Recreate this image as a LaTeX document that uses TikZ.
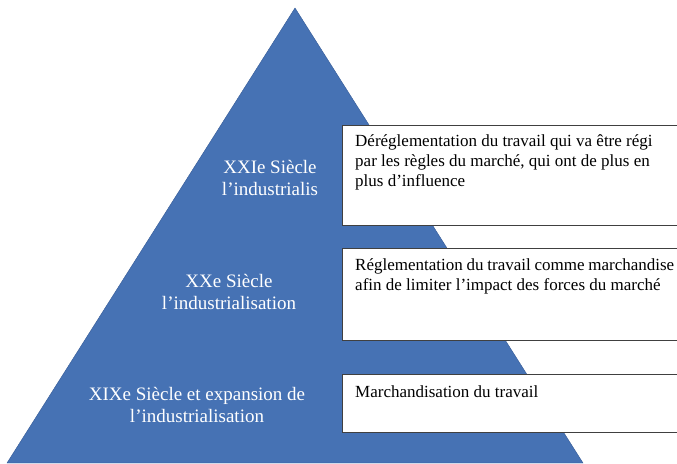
\documentclass[tikz,border=0pt]{standalone}
\usepackage{fontspec}
\setmainfont{Liberation Serif}
\usepackage{tikz}
\usetikzlibrary{positioning}
\hyphenpenalty=10000
\definecolor{pyrfill}{RGB}{70,114,180}
\definecolor{pyrborder}{RGB}{52,90,150}
\definecolor{boxborder}{RGB}{64,64,64}
\tikzset{
  levelbox/.style={
    draw=boxborder, fill=white, line width=0.9pt,
    minimum width=350pt, anchor=north west, inner sep=0pt
  },
  leveltext/.style={
    font=\fontsize{17}{20}\selectfont, inner sep=0pt
  },
  pyrlabel/.style={
    font=\fontsize{19}{22}\selectfont, text=white,
    align=center, inner sep=0pt
  }
}

\begin{document}
\begin{tikzpicture}[x=1pt, y=-1pt]
    \useasboundingbox (0,0) rectangle (677,463);
    \clip (0,0) rectangle (677,463);

    % Pyramid
    \coordinate (apex) at (295,8);
    \coordinate (baseL) at (7,463);
    \coordinate (baseR) at (583,463);
    \fill[pyrfill, draw=pyrborder, line width=0.4pt] (apex) -- (baseR) -- (baseL) -- cycle;

    % Century labels
    \node[pyrlabel] (lab21) at (270,178) {XXIe Siècle\\l’industrialis};
    \node[pyrlabel] (lab20) at (229,292) {XXe Siècle\\l’industrialisation};
    \node[pyrlabel] (lab19) at (197,405) {XIXe Siècle et expansion de\\l’industrialisation};

    % Description boxes
    \node[levelbox, minimum height=100pt] (box21) at (342,125) {};
    \node[levelbox, minimum height=92pt] (box20) at (342,248) {};
    \node[levelbox, minimum height=58pt] (box19) at (342,374) {};

    \node[leveltext, align=left, below right=9pt and 13pt of box21.north west] (txt21)
      {Déréglementation du travail qui va être régi\\par les règles du marché, qui ont de plus en\\plus d’influence};
    \node[leveltext, align=justify, text width=319pt, below right=10pt and 13pt of box20.north west] (txt20)
      {Réglementation du travail comme marchandise afin de limiter l’impact des forces du marché};
    \node[leveltext, align=left, below right=11pt and 13pt of box19.north west] (txt19)
      {Marchandisation du travail};

  \end{tikzpicture}
\end{document}
